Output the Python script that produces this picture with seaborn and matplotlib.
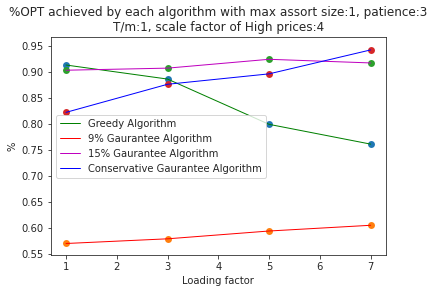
import numpy as np
import pandas as pd
import seaborn as sns
import matplotlib
matplotlib.use('Agg')
import matplotlib.pyplot as plt

# Config
loading_factor = [1, 3, 5, 7]
greedy = [0.913, 0.886, 0.799, 0.761]
gaurantee_9 = [0.570, 0.579, 0.594, 0.605]
gaurantee_15 = [0.903, 0.907, 0.924, 0.917]
conservative = [0.822, 0.876, 0.896, 0.942]

series_names = ['Greedy Algorithm', '9% Gaurantee Algorithm',
                '15% Gaurantee Algorithm', 'Conservative Gaurantee Algorithm']
line_colors = ['g', 'r', 'm', 'b']
dot_colors = ['C0', 'C1', 'C2', 'C3']

sns.set_style("ticks")
plt.rcParams['font.family'] = ['DejaVu Sans']

fig, ax = plt.subplots(figsize=(434 / 72, 293 / 72), dpi=72)
fig.subplots_adjust(left=0.117, right=0.889, top=0.874, bottom=0.129)

# scatter dots first, then the thin line on top
all_series = [greedy, gaurantee_9, gaurantee_15, conservative]
for name, vals, lc, dc in zip(series_names, all_series, line_colors, dot_colors):
    df = pd.DataFrame({'x': loading_factor, 'y': vals})
    sns.scatterplot(data=df, x='x', y='y', color=dc, s=48, linewidth=0, ax=ax)
    sns.lineplot(data=df, x='x', y='y', color=lc, linewidth=1, label=name, ax=ax)

ax.set_xlim(0.7, 7.3)
ax.set_ylim(0.5475, 0.967)
ax.set_xticks(np.arange(1, 8))
ax.set_title('%OPT achieved by each algorithm with max assort size:1, patience:3\n'
             'T/m:1, scale factor of High prices:4', fontsize=12)
ax.set_xlabel('Loading factor')
ax.set_ylabel('%')
ax.legend(loc='center left')

plt.savefig('out.png', dpi=72)
